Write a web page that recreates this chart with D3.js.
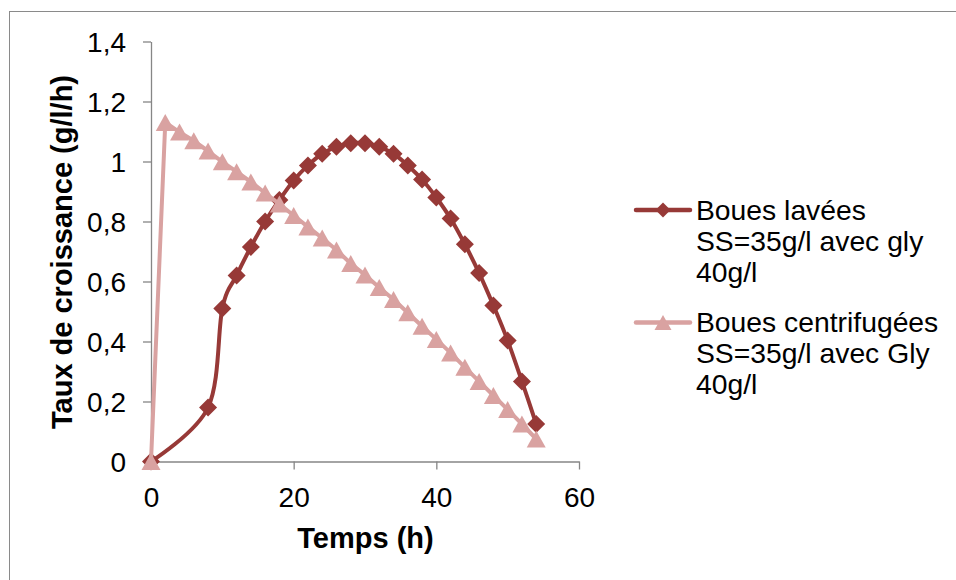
<!DOCTYPE html>
<html>
<head>
<meta charset="utf-8">
<script src="https://cdn.jsdelivr.net/npm/d3@7"></script>
<style>
  html, body { margin: 0; padding: 0; background: #fff; }
  svg { display: block; font-family: "Liberation Sans", Arial, sans-serif; }
</style>
</head>
<body>
<svg id="chart" width="956" height="580"></svg>
<script>
// ---- data ----
const timeLavees = [0, 8, 10, 12, 14, 16, 18, 20, 22, 24, 26, 28, 30, 32, 34, 36, 38, 40, 42, 44, 46, 48, 50, 52, 54];
const tauxLavees = [0, 0.18, 0.51, 0.62, 0.715, 0.80, 0.872, 0.937, 0.987, 1.026, 1.049, 1.061, 1.061, 1.049, 1.026, 0.987, 0.94, 0.88, 0.81, 0.724, 0.628, 0.52, 0.403, 0.267, 0.125];
const timeCentri = [0, 2, 4, 6, 8, 10, 12, 14, 16, 18, 20, 22, 24, 26, 28, 30, 32, 34, 36, 38, 40, 42, 44, 46, 48, 50, 52, 54];
const tauxCentri = [0, 1.13, 1.098, 1.069, 1.035, 0.999, 0.966, 0.932, 0.895, 0.858, 0.82, 0.782, 0.745, 0.705, 0.66, 0.622, 0.58, 0.54, 0.496, 0.451, 0.407, 0.362, 0.314, 0.267, 0.22, 0.173, 0.125, 0.075];
const xTicks = [0, 20, 40, 60];
const yTicks = [0, 0.2, 0.4, 0.6, 0.8, 1, 1.2, 1.4];
const seriesNames = [
  ["Boues lavées", "SS=35g/l avec gly", "40g/l"],
  ["Boues centrifugées", "SS=35g/l avec Gly", "40g/l"]
];
const xTitle = "Temps (h)";
const yTitle = "Taux de croissance (g/l/h)";

// ---- styles ----
const colLavees = "#973937";
const colCentri = "#D9A2A1";
const axisCol = "#868686";
const fontTick = 28;

const svg = d3.select("#chart");

// outer frame
svg.append("rect")
  .attr("x", 9.5).attr("y", 11.5)
  .attr("width", 1000).attr("height", 1000)
  .attr("fill", "none").attr("stroke", "#8a8a8a").attr("stroke-width", 1);

const x = d3.scaleLinear().domain([0, 60]).range([151, 579]);
const y = d3.scaleLinear().domain([0, 1.4]).range([461.5, 41.5]);
const fmt = d => String(d).replace(".", ",");

// y axis
const gy = svg.append("g").attr("transform", "translate(151,0)")
  .call(d3.axisLeft(y).tickValues(yTicks).tickFormat(fmt).tickSizeInner(8).tickSizeOuter(0).tickPadding(17));
gy.select(".domain").attr("stroke", axisCol).attr("stroke-width", 1.3);
gy.selectAll(".tick line").attr("stroke", axisCol).attr("stroke-width", 1.3);
gy.selectAll(".tick text").attr("font-size", fontTick).attr("fill", "#000")
  .attr("font-family", "Liberation Sans, Arial, sans-serif").attr("dy", "0.36em");

// x axis
const gx = svg.append("g").attr("transform", "translate(0,461.5)")
  .call(d3.axisBottom(x).tickValues(xTicks).tickFormat(fmt).tickSizeInner(8).tickSizeOuter(0).tickPadding(18));
gx.select(".domain").attr("stroke", axisCol).attr("stroke-width", 1.3);
gx.selectAll(".tick line").attr("stroke", axisCol).attr("stroke-width", 1.3);
gx.selectAll(".tick text").attr("font-size", fontTick).attr("fill", "#000")
  .attr("font-family", "Liberation Sans, Arial, sans-serif").attr("y", 45.5).attr("dy", 0);

// axis titles
svg.append("text").attr("x", 365.5).attr("y", 547.5)
  .attr("text-anchor", "middle").attr("font-weight", "bold").attr("font-size", 29)
  .text(xTitle);
svg.append("text").attr("transform", "translate(71.5,252) rotate(-90)")
  .attr("text-anchor", "middle").attr("font-weight", "bold").attr("font-size", 29)
  .text(yTitle);

// series data
const dataL = timeLavees.map((t, i) => [t, tauxLavees[i]]);
const dataC = timeCentri.map((t, i) => [t, tauxCentri[i]]);

const diamond = (s) => `M0,${-s}L${s},0L0,${s}L${-s},0Z`;
const triangle = (w, h) => `M0,${-h/2}L${w/2},${h/2}L${-w/2},${h/2}Z`;

// series 1 (smoothed)
svg.append("path").datum(dataL)
  .attr("d", d3.line().x(d => x(d[0])).y(d => y(d[1])).curve(d3.curveCardinal.tension(0)))
  .attr("fill", "none").attr("stroke", colLavees).attr("stroke-width", 4)
  .attr("stroke-linejoin", "round").attr("stroke-linecap", "round");
svg.append("g").selectAll("path").data(dataL).join("path")
  .attr("transform", d => `translate(${x(d[0])},${y(d[1])})`)
  .attr("d", diamond(9)).attr("fill", colLavees);

// series 2 (straight)
svg.append("path").datum(dataC)
  .attr("d", d3.line().x(d => x(d[0])).y(d => y(d[1])))
  .attr("fill", "none").attr("stroke", colCentri).attr("stroke-width", 4)
  .attr("stroke-linejoin", "round").attr("stroke-linecap", "round");
svg.append("g").selectAll("path").data(dataC).join("path")
  .attr("transform", d => `translate(${x(d[0])},${y(d[1])})`)
  .attr("d", triangle(19, 17)).attr("fill", colCentri);

// legend
const legendRows = [
  { y: 210, color: colLavees, marker: diamond(7.5), lines: seriesNames[0] },
  { y: 322.5, color: colCentri, marker: triangle(17, 15), lines: seriesNames[1] }
];
legendRows.forEach(r => {
  const g = svg.append("g");
  g.append("line").attr("x1", 636).attr("x2", 690).attr("y1", r.y).attr("y2", r.y)
    .attr("stroke", r.color).attr("stroke-width", 4.5).attr("stroke-linecap", "round");
  g.append("path").attr("transform", `translate(663,${r.y})`).attr("d", r.marker).attr("fill", r.color);
  r.lines.forEach((t, i) => {
    g.append("text").attr("x", 696).attr("y", r.y + 9.5 + i * 31.2)
      .attr("font-size", 28.3).attr("fill", "#000").text(t);
  });
});
</script>
</body>
</html>
